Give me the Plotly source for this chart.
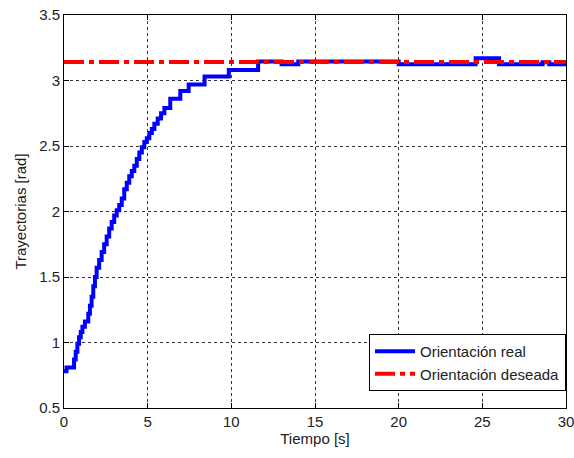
import math
import plotly.graph_objects as go

# Orientation samples (staircase): time instants [s] and held values [rad]
t_real = [0.0, 0.15, 0.6, 0.7, 0.8, 0.9, 1.0, 1.1, 1.25, 1.45, 1.55, 1.65, 1.75,
          1.85, 1.95, 2.1, 2.25, 2.4, 2.55, 2.7, 2.85, 3.0, 3.15, 3.3, 3.45, 3.6,
          3.75, 3.9, 4.05, 4.2, 4.35, 4.5, 4.65, 4.8, 4.95, 5.1, 5.25, 5.4, 5.6,
          5.8, 6.0, 6.35, 6.95, 7.45, 8.4, 9.85, 11.6, 13.0, 14.0, 20.0, 24.6,
          26.0, 28.6, 29.0, 30.0]
theta_real = [0.78, 0.81, 0.87, 0.93, 0.99, 1.04, 1.08, 1.12, 1.16, 1.22, 1.28,
              1.35, 1.43, 1.50, 1.57, 1.63, 1.69, 1.75, 1.81, 1.87, 1.92, 1.97,
              2.01, 2.05, 2.10, 2.17, 2.22, 2.27, 2.31, 2.35, 2.40, 2.45, 2.49,
              2.53, 2.56, 2.60, 2.63, 2.67, 2.71, 2.75, 2.79, 2.86, 2.92, 2.97,
              3.03, 3.08, 3.145, 3.125, 3.145, 3.125, 3.17, 3.125, 3.14, 3.125,
              3.125]

# Desired orientation (constant reference)
t_ref = [0.0, 30.0]
theta_ref = [math.pi, math.pi]

x_ticks = [0, 5, 10, 15, 20, 25, 30]
y_ticks = [0.5, 1, 1.5, 2, 2.5, 3, 3.5]

FONT = "Liberation Sans, Arial"
TXT = "#222222"
FS = 15

fig = go.Figure()
fig.add_trace(go.Scatter(
    x=t_real, y=theta_real, mode="lines", line_shape="hv",
    line=dict(color="#0000ff", width=4),
    name="Orientación real"))
fig.add_trace(go.Scatter(
    x=t_ref, y=theta_ref, mode="lines",
    line=dict(color="#ff0000", width=4, dash="20px,5px,5px,5px"),
    name="Orientación deseada"))

axis_common = dict(
    showline=True, linecolor="black", linewidth=1, mirror="ticks",
    ticks="inside", ticklen=5, tickcolor="black",
    showgrid=True, gridcolor="#333333", gridwidth=1, griddash="3px,3px",
    zeroline=False, automargin=False, ticklabeloverflow="allow",
    tickfont=dict(family=FONT, size=FS, color=TXT),
)

fig.update_xaxes(range=[0, 30], tickvals=x_ticks, **axis_common,
                 title=dict(text="Tiempo [s]", standoff=2,
                            font=dict(family=FONT, size=FS, color=TXT)))
fig.update_yaxes(range=[0.5, 3.5], tickvals=y_ticks, **axis_common,
                 title=dict(text="Trayectorias [rad]", standoff=8,
                            font=dict(family=FONT, size=FS, color=TXT)))

fig.update_layout(
    width=574, height=458, autosize=False,
    margin=dict(l=64, r=8, t=15, b=50, autoexpand=False),
    paper_bgcolor="white", plot_bgcolor="white",
    font=dict(family=FONT, size=FS, color=TXT),
    legend=dict(x=1, xanchor="right", y=0.043, yanchor="bottom",
                bgcolor="white", bordercolor="black", borderwidth=1,
                font=dict(family=FONT, size=FS, color=TXT),
                tracegroupgap=0, itemwidth=40),
    showlegend=True,
)

fig.write_html("out.html")
